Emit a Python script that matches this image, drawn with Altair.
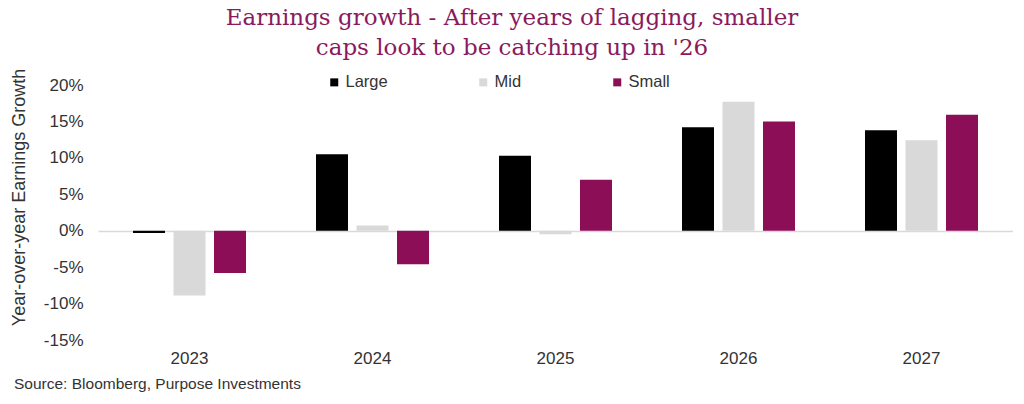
import altair as alt
import pandas as pd

years = ["2023", "2024", "2025", "2026", "2027"]
series = ["Large", "Mid", "Small"]
large = [-0.3, 10.5, 10.3, 14.2, 13.8]
mid = [-8.9, 0.7, -0.5, 17.7, 12.4]
small = [-5.8, -4.6, 7.0, 15.0, 15.9]
colors = ["#000000", "#D9D9D9", "#8B0E57"]
y_ticks = [-0.15, -0.10, -0.05, 0.0, 0.05, 0.10, 0.15, 0.20]
title_lines = ["Earnings growth - After years of lagging, smaller",
               "caps look to be catching up in '26"]
y_title = "Year-over-year Earnings Growth"
source = "Source: Bloomberg, Purpose Investments"

rows = []
for name, vals in zip(series, [large, mid, small]):
    for yr, v in zip(years, vals):
        rows.append({"year": yr, "series": name, "value": v / 100.0})
df = pd.DataFrame(rows)

W, H = 915, 255
FONT = "Liberation Sans"
TXT = "#333333"
TITLE_COLOR = "#8B1A5C"

bars = alt.Chart(df).mark_bar().encode(
    x=alt.X("year:N", sort=years,
            scale=alt.Scale(paddingInner=0.336, paddingOuter=0.168),
            axis=alt.Axis(title=None, labelAngle=0, domain=False, ticks=False,
                          labelPadding=10, labelFontSize=17, labelColor=TXT,
                          labelFont=FONT)),
    xOffset=alt.XOffset("series:N", sort=series,
                        scale=alt.Scale(domain=series, paddingInner=0.21, paddingOuter=0.105)),
    y=alt.Y("value:Q",
            scale=alt.Scale(domain=[-0.15, 0.2], nice=False, zero=False),
            axis=alt.Axis(values=y_ticks, domain=False,
                          grid=True, gridWidth=1.5,
                          gridColor={"condition": {"test": "abs(datum.value) < 0.0001",
                                                   "value": "#D9D9D9"},
                                     "value": "transparent"},
                          labelExpr="(datum.value < -0.0001 ? '-' : '') + format(abs(datum.value), '.0%')",
                          labelOverlap=False,
                          ticks=False, labelPadding=15, labelFontSize=17,
                          labelColor=TXT, labelFont=FONT,
                          title=y_title, titleFont=FONT, titleFontSize=18,
                          titleFontWeight="normal", titleColor=TXT,
                          titleX=-70, titleY=112)),
    color=alt.Color("series:N",
                    scale=alt.Scale(domain=series, range=colors),
                    legend=alt.Legend(orient="none", direction="horizontal",
                                      legendX=228, legendY=-11, title=None,
                                      symbolType="square", symbolSize=64,
                                      symbolStrokeWidth=0, labelFontSize=16.5,
                                      labelFont=FONT, labelColor=TXT,
                                      columnPadding=87, labelOffset=3, padding=0)),
)

src = alt.Chart(pd.DataFrame({"t": [source]})).mark_text(
    align="left", baseline="middle", fontSize=15.5, font=FONT, color=TXT
).encode(text="t:N", x=alt.value(-84), y=alt.value(299))

t1 = alt.Chart(pd.DataFrame({"t": [title_lines[0]]})).mark_text(
    align="center", baseline="middle", fontSize=23, font="DejaVu Serif",
    color=TITLE_COLOR
).encode(text="t:N", x=alt.value(414), y=alt.value(-67))

t2 = alt.Chart(pd.DataFrame({"t": [title_lines[1]]})).mark_text(
    align="center", baseline="middle", fontSize=23, font="DejaVu Serif",
    color=TITLE_COLOR
).encode(text="t:N", x=alt.value(414), y=alt.value(-37))

chart = alt.layer(bars, src, t1, t2).properties(
    width=W, height=H,
    autosize=alt.AutoSizeParams(type="none"),
    padding={"left": 90, "top": 77, "right": 0, "bottom": 56},
).configure_view(stroke=None)

chart.save("out.html", embed_options={"renderer": "svg", "actions": False})
